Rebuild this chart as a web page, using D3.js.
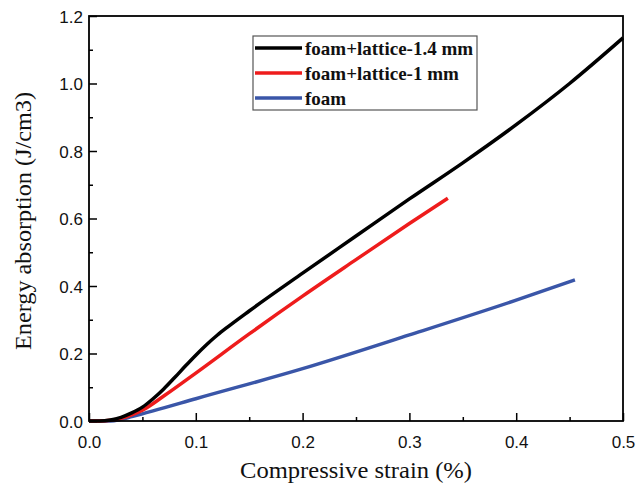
<!DOCTYPE html>
<meta charset="utf-8">
<title>Energy absorption</title>
<style>
body { margin: 0; background: #fff; }
</style>
<body>
<script src="https://d3js.org/d3.v7.min.js"></script>
<script>

let strain14 = [0, 0.01, 0.02, 0.03, 0.04, 0.05, 0.06, 0.07, 0.08, 0.09, 0.1, 0.11, 0.12, 0.13, 0.15, 0.2, 0.25, 0.3, 0.35, 0.4, 0.45, 0.5];
let energy14 = [0, 0, 0.003, 0.011, 0.024, 0.041, 0.066, 0.095, 0.128, 0.162, 0.195, 0.226, 0.254, 0.279, 0.326, 0.438, 0.548, 0.658, 0.765, 0.878, 1.0, 1.135];

let strain10 = [0, 0.01, 0.02, 0.03, 0.04, 0.05, 0.07, 0.1, 0.15, 0.2, 0.25, 0.3, 0.336];
let energy10 = [0, 0, 0.002, 0.008, 0.018, 0.032, 0.074, 0.142, 0.258, 0.37, 0.478, 0.585, 0.66];

let strainFoam = [0, 0.01, 0.02, 0.03, 0.04, 0.06, 0.1, 0.2, 0.3, 0.4, 0.455];
let energyFoam = [0, 0, 0, 0.005, 0.013, 0.03, 0.066, 0.155, 0.255, 0.358, 0.418];

let seriesNames = ['foam+lattice-1.4 mm', 'foam+lattice-1 mm', 'foam'];
let seriesColors = ['#000000', '#ee1c1c', '#3a56a8'];

let xTicks = [0, 0.1, 0.2, 0.3, 0.4, 0.5];
let yTicks = [0, 0.2, 0.4, 0.6, 0.8, 1.0, 1.2];

let margin = { top: 16, right: 15, bottom: 64, left: 89 };
let width = 638 - margin.left - margin.right;
let height = 485 - margin.top - margin.bottom;

let x = d3.scaleLinear().domain([0, 0.5]).range([0, width]);
let y = d3.scaleLinear().domain([0, 1.2]).range([height, 0]);

let svg = d3.select('body').append('svg')
    .attr('width', 638)
    .attr('height', 485)
    .append('g')
        .attr('transform', `translate(${margin.left},${margin.top})`);

let series = [
    { name: seriesNames[0], color: seriesColors[0], xs: strain14, ys: energy14 },
    { name: seriesNames[1], color: seriesColors[1], xs: strain10, ys: energy10 },
    { name: seriesNames[2], color: seriesColors[2], xs: strainFoam, ys: energyFoam }
];

let line = d3.line()
    .x(d => x(d[0]))
    .y(d => y(d[1]))
    .curve(d3.curveMonotoneX);

// foam first so black stays on top
svg.selectAll('.series')
    .data(series.slice().reverse())
    .enter().append('path')
        .attr('class', 'series')
        .attr('fill', 'none')
        .attr('stroke', d => d.color)
        .attr('stroke-width', 3.5)
        .attr('d', d => line(d.xs.map((v, i) => [v, d.ys[i]])));

// axes, ticks pointing in
let tickFont = 'Arial, "Liberation Sans", sans-serif';

let xAxis = svg.append('g')
    .attr('transform', `translate(0,${height})`)
    .call(d3.axisBottom(x).tickValues(xTicks).tickSize(-8).tickPadding(12).tickFormat(d3.format('.1f')));
let xMinor = svg.append('g')
    .attr('transform', `translate(0,${height})`)
    .call(d3.axisBottom(x).tickValues(d3.range(0.05, 0.5, 0.1)).tickSize(-4).tickFormat(''));

let yAxis = svg.append('g')
    .call(d3.axisLeft(y).tickValues(yTicks).tickSize(-8).tickPadding(6).tickFormat(d3.format('.1f')));
let yMinor = svg.append('g')
    .call(d3.axisLeft(y).tickValues(d3.range(0.1, 1.2, 0.2)).tickSize(-4).tickFormat(''));

[xAxis, xMinor, yAxis, yMinor].forEach(a => {
    a.select('.domain').remove();
    a.selectAll('.tick line').attr('stroke', '#000').attr('stroke-width', 1.5);
    a.selectAll('text')
        .style('font-family', tickFont)
        .style('font-size', '17px')
        .attr('fill', '#111');
});
xAxis.selectAll('.tick text').attr('dy', '0.9em');
yAxis.selectAll('.tick text').attr('dy', '0.36em');

svg.append('rect')
    .attr('width', width)
    .attr('height', height)
    .attr('fill', 'none')
    .attr('stroke', '#000')
    .attr('stroke-width', 1.8);

// axis titles
svg.append('text')
    .attr('x', width / 2)
    .attr('y', height + 57)
    .attr('text-anchor', 'middle')
    .attr('textLength', 232)
    .attr('lengthAdjust', 'spacingAndGlyphs')
    .style('font-family', '"Liberation Serif", "Times New Roman", serif')
    .style('font-size', '23px')
    .attr('fill', '#111')
    .text('Compressive strain (%)');

svg.append('text')
    .attr('transform', `translate(${-58},${221 - margin.top})rotate(-90)`)
    .attr('text-anchor', 'middle')
    .attr('textLength', 258)
    .attr('lengthAdjust', 'spacingAndGlyphs')
    .style('font-family', '"Liberation Serif", "Times New Roman", serif')
    .style('font-size', '23px')
    .attr('fill', '#111')
    .text('Energy absorption (J/cm3)');

// legend
let legend = svg.append('g')
    .attr('transform', `translate(${253 - margin.left},${36 - margin.top})`);

legend.append('rect')
    .attr('width', 224)
    .attr('height', 74)
    .attr('fill', '#fff')
    .attr('stroke', '#555')
    .attr('stroke-width', 1.2);

let item = legend.selectAll('.item')
    .data(series)
    .enter().append('g')
        .attr('class', 'item')
        .attr('transform', (d, i) => `translate(0,${12 + i * 25})`);

item.append('line')
    .attr('x1', 2)
    .attr('x2', 49)
    .attr('stroke', d => d.color)
    .attr('stroke-width', 3.5);

item.append('text')
    .attr('x', 52)
    .attr('dy', '0.35em')
    .style('font-family', '"Liberation Serif", "Times New Roman", serif')
    .style('font-weight', 'bold')
    .style('font-size', '19px')
    .attr('fill', '#111')
    .text(d => d.name);

</script>
</body>
